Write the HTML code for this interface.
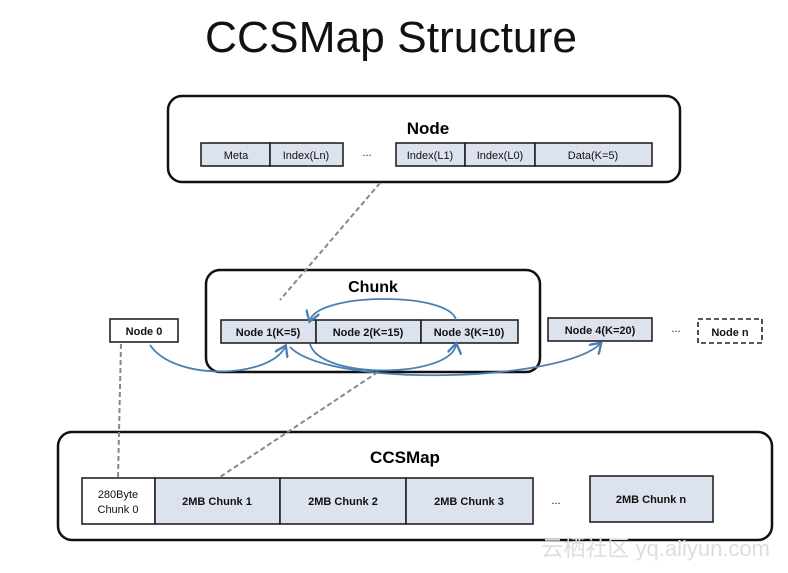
<!DOCTYPE html>
<html><head><meta charset="utf-8"><style>
body{margin:0;background:#fff;}
svg{display:block;font-family:"Liberation Sans",sans-serif;}
.c{fill:#dde3ee;stroke:#222;stroke-width:1.6}
.w{fill:#fff;stroke:#222;stroke-width:1.6}
.t{font-size:11px;text-anchor:middle;fill:#111}
.b{font-weight:bold}
</style></head><body>
<svg width="788" height="573" viewBox="0 0 788 573">
<defs><marker id="a" markerWidth="8" markerHeight="8" refX="5" refY="4" orient="auto"><path d="M0,0 L6,4 L0,8" fill="none" stroke="#4a7fb0" stroke-width="1.3"/></marker></defs>
<text x="391" y="52" font-size="44" text-anchor="middle" fill="#111" textLength="372" lengthAdjust="spacingAndGlyphs">CCSMap Structure</text>
<!-- Node box -->
<rect x="168" y="96" width="512" height="86" rx="14" fill="#fff" stroke="#111" stroke-width="2.5"/>
<text x="428" y="134" font-size="17" class="b" text-anchor="middle">Node</text>
<rect class="c" x="201" y="143" width="69" height="23"/><text class="t" x="236" y="159">Meta</text>
<rect class="c" x="270" y="143" width="73" height="23"/><text class="t" x="306" y="159">Index(Ln)</text>
<text class="t" x="367" y="156">...</text>
<rect class="c" x="396" y="143" width="69" height="23"/><text class="t" x="430" y="159">Index(L1)</text>
<rect class="c" x="465" y="143" width="70" height="23"/><text class="t" x="500" y="159">Index(L0)</text>
<rect class="c" x="535" y="143" width="117" height="23"/><text class="t" x="593" y="159">Data(K=5)</text>
<!-- Chunk box -->
<rect x="206" y="270" width="334" height="102" rx="14" fill="none" stroke="#111" stroke-width="2.5"/>
<text x="373" y="292" font-size="16" class="b" text-anchor="middle">Chunk</text>
<rect class="w" x="110" y="319" width="68" height="23"/><text class="t b" x="144" y="335">Node 0</text>
<rect class="c" x="221" y="320" width="95" height="23"/><text class="t b" x="268" y="336">Node 1(K=5)</text>
<rect class="c" x="316" y="320" width="105" height="23"/><text class="t b" x="368" y="336">Node 2(K=15)</text>
<rect class="c" x="421" y="320" width="97" height="23"/><text class="t b" x="469" y="336">Node 3(K=10)</text>
<rect class="c" x="548" y="318" width="104" height="23"/><text class="t b" x="600" y="334">Node 4(K=20)</text>
<text class="t" x="676" y="332">...</text>
<rect x="698" y="319" width="64" height="24" fill="#fff" stroke="#222" stroke-width="1.6" stroke-dasharray="5,3"/><text class="t b" x="730" y="336">Node n</text>
<!-- arcs -->
<g fill="none" stroke="#4a7fb0" stroke-width="1.8">
<path d="M150,345 C175,382 270,378 285,347" marker-end="url(#a)"/>
<path d="M290,347 C330,388 560,382 600,344" marker-end="url(#a)"/>
<path d="M310,344 C320,380 450,378 456,345" marker-end="url(#a)"/>
<path d="M456,320 C450,292 320,292 310,320" marker-end="url(#a)"/>
</g>
<!-- CCSMap box -->
<rect x="58" y="432" width="714" height="108" rx="14" fill="#fff" stroke="#111" stroke-width="2.5"/>
<text x="405" y="463" font-size="17" class="b" text-anchor="middle">CCSMap</text>
<rect class="w" x="82" y="478" width="73" height="46"/><text class="t" x="118" y="498">280Byte</text><text class="t" x="118" y="513">Chunk 0</text>
<rect class="c" x="155" y="478" width="125" height="46"/><text class="t b" x="217" y="505">2MB Chunk 1</text>
<rect class="c" x="280" y="478" width="126" height="46"/><text class="t b" x="343" y="505">2MB Chunk 2</text>
<rect class="c" x="406" y="478" width="127" height="46"/><text class="t b" x="469" y="505">2MB Chunk 3</text>
<text class="t" x="556" y="504">...</text>
<rect class="c" x="590" y="476" width="123" height="46"/><text class="t b" x="651" y="503">2MB Chunk n</text>
<!-- dashed lines on top -->
<g stroke="#888" stroke-width="2" stroke-dasharray="5,3" fill="none">
<line x1="380" y1="183" x2="280" y2="300"/>
<line x1="121" y1="344" x2="118" y2="477"/>
<line x1="378" y1="372" x2="220" y2="477"/>
</g>
<text x="770" y="556" font-size="22" text-anchor="end" fill="#ddd" font-family="'Liberation Sans','Noto Sans CJK SC',sans-serif">云栖社区 yq.aliyun.com</text>
</svg>
</body></html>
